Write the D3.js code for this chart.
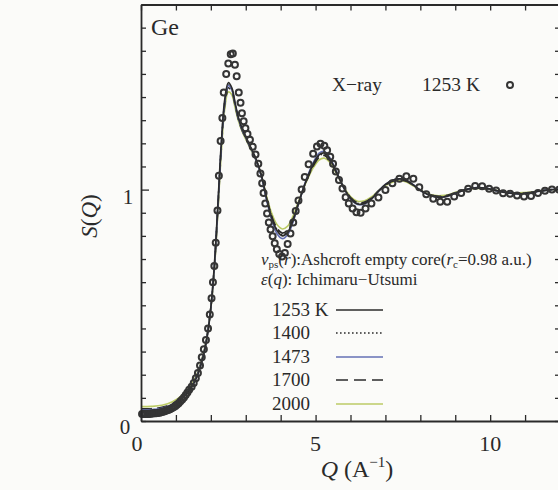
<!DOCTYPE html>
<html><head><meta charset="utf-8">
<script src="https://cdn.jsdelivr.net/npm/d3@7/dist/d3.min.js"></script>
<style>
html,body{margin:0;padding:0;background:#fbfbf9;}
svg{display:block;font-family:"Liberation Serif","Times New Roman",serif;}
</style></head>
<body><svg id="c" width="558" height="490"></svg>
<script>
// ---- data ----
const qModel = [0, 0.3, 0.6, 0.9, 1.2, 1.4, 1.6, 1.8, 1.9, 2.0, 2.1, 2.2, 2.3, 2.4, 2.5, 2.6, 2.7, 2.8, 2.9, 3.0, 3.15, 3.3, 3.45, 3.6, 3.75, 3.9, 4.05, 4.2, 4.35, 4.5, 4.65, 4.8, 4.95, 5.1, 5.25, 5.4, 5.6, 5.8, 6.0, 6.2, 6.4, 6.6, 6.8, 7.0, 7.2, 7.4, 7.6, 7.8, 8.0, 8.2, 8.4, 8.6, 8.8, 9.0, 9.3, 9.6, 9.9, 10.2, 10.5, 10.8, 11.1, 11.4, 11.7, 12.0];
const s1253 = [0.045,0.046,0.052,0.068,0.100,0.135,0.190,0.290,0.370,0.490,0.670,0.930,1.200,1.390,1.462,1.440,1.370,1.305,1.262,1.228,1.180,1.130,1.060,0.960,0.875,0.822,0.800,0.815,0.865,0.935,1.005,1.065,1.115,1.150,1.158,1.135,1.075,1.010,0.962,0.938,0.940,0.960,0.993,1.022,1.040,1.046,1.040,1.020,0.997,0.980,0.970,0.967,0.973,0.984,1.000,1.008,1.005,0.995,0.986,0.982,0.985,0.993,0.999,1.002];
const s1400 = [0.047,0.048,0.054,0.070,0.102,0.137,0.192,0.292,0.372,0.490,0.668,0.925,1.192,1.380,1.452,1.433,1.366,1.303,1.260,1.226,1.178,1.128,1.058,0.960,0.877,0.826,0.805,0.820,0.868,0.937,1.005,1.063,1.112,1.146,1.154,1.132,1.074,1.011,0.964,0.941,0.943,0.962,0.993,1.020,1.038,1.044,1.038,1.019,0.997,0.981,0.971,0.969,0.974,0.985,1.000,1.007,1.004,0.995,0.987,0.983,0.986,0.993,0.999,1.002];
const s1473 = [0.048,0.049,0.055,0.071,0.103,0.138,0.193,0.293,0.372,0.488,0.664,0.920,1.188,1.378,1.450,1.432,1.366,1.302,1.258,1.224,1.176,1.126,1.055,0.952,0.865,0.808,0.788,0.805,0.858,0.932,1.006,1.070,1.122,1.158,1.165,1.140,1.078,1.010,0.960,0.936,0.938,0.959,0.993,1.023,1.041,1.047,1.041,1.021,0.997,0.980,0.969,0.966,0.972,0.984,1.000,1.009,1.006,0.995,0.986,0.981,0.984,0.993,0.999,1.002];
const s1700 = [0.052,0.053,0.059,0.075,0.107,0.142,0.197,0.296,0.374,0.488,0.660,0.912,1.178,1.368,1.440,1.424,1.360,1.298,1.255,1.222,1.175,1.126,1.058,0.962,0.882,0.832,0.812,0.826,0.872,0.938,1.004,1.060,1.107,1.140,1.148,1.128,1.072,1.012,0.966,0.944,0.946,0.964,0.994,1.019,1.036,1.042,1.036,1.018,0.997,0.982,0.973,0.971,0.976,0.986,1.000,1.006,1.004,0.995,0.988,0.984,0.987,0.994,0.999,1.002];
const s2000 = [0.062,0.063,0.068,0.083,0.114,0.148,0.202,0.300,0.376,0.486,0.652,0.898,1.160,1.350,1.422,1.410,1.350,1.292,1.250,1.218,1.172,1.125,1.060,0.970,0.895,0.848,0.830,0.842,0.884,0.945,1.004,1.055,1.098,1.128,1.136,1.120,1.068,1.013,0.970,0.950,0.952,0.968,0.995,1.017,1.032,1.038,1.033,1.016,0.997,0.983,0.975,0.974,0.978,0.988,1.000,1.005,1.003,0.996,0.989,0.986,0.988,0.994,0.999,1.001];

const qXray = [0.03,0.08,0.13,0.18,0.23,0.28,0.33,0.38,0.43,0.48,0.53,0.58,0.63,0.68,0.73,0.78,0.83,0.88,0.93,0.98,1.03,1.08,1.13,1.18,1.23,1.28,1.33,1.38,1.45,1.51,1.57,1.63,1.69,1.74,1.80,1.86,1.92,1.97,2.02,2.06,2.10,2.14,2.19,2.23,2.28,2.33,2.37,2.44,2.50,2.57,2.63,2.69,2.74,2.80,2.85,2.89,2.94,2.99,3.05,3.12,3.20,3.28,3.36,3.42,3.47,3.51,3.56,3.61,3.66,3.71,3.77,3.83,3.89,3.96,4.04,4.12,4.20,4.28,4.36,4.43,4.51,4.60,4.69,4.80,4.93,5.04,5.14,5.25,5.33,5.42,5.50,5.58,5.67,5.77,5.86,5.95,6.06,6.17,6.29,6.43,6.60,6.80,7.00,7.20,7.40,7.60,7.80,7.97,8.17,8.37,8.57,8.77,8.97,9.17,9.37,9.57,9.77,9.97,10.17,10.37,10.57,10.77,10.97,11.17,11.37,11.57,11.77,11.97];
const sXray = [0.030,0.030,0.030,0.030,0.030,0.031,0.032,0.033,0.034,0.035,0.036,0.038,0.040,0.042,0.045,0.048,0.051,0.055,0.059,0.064,0.070,0.077,0.085,0.093,0.102,0.112,0.123,0.135,0.148,0.164,0.185,0.207,0.240,0.275,0.310,0.350,0.400,0.460,0.530,0.600,0.670,0.770,0.910,1.060,1.210,1.310,1.420,1.500,1.545,1.585,1.588,1.540,1.490,1.420,1.375,1.330,1.295,1.265,1.240,1.215,1.185,1.152,1.112,1.070,1.028,0.985,0.940,0.897,0.858,0.828,0.798,0.768,0.742,0.722,0.711,0.726,0.765,0.810,0.858,0.908,0.953,1.000,1.055,1.110,1.155,1.186,1.198,1.190,1.170,1.142,1.112,1.078,1.042,1.005,0.967,0.940,0.918,0.902,0.900,0.918,0.940,0.966,0.998,1.027,1.047,1.058,1.047,1.010,0.980,0.960,0.948,0.948,0.970,0.985,1.004,1.016,1.014,1.004,0.996,0.984,0.982,0.975,0.970,0.972,0.985,0.995,1.000,1.000];

const seriesNames = ["1253 K", "1400", "1473", "1700", "2000"];
const xTickLabels = ["0", "5", "10"];
const xTickLabelValues = [0, 5, 10];
const yTickLabels = ["0", "1"];
const yTickLabelValues = [0, 1];

// ---- styles ----
const styles = [
  {color:"#2b2b2b", width:1.7, dash:null},
  {color:"#2b2b2b", width:1.6, dash:"1.6,2.4"},
  {color:"#6570b4", width:1.6, dash:null},
  {color:"#2b2b2b", width:1.7, dash:"11,5"},
  {color:"#bccb66", width:1.6, dash:null}
];
const seriesVals = [s1253, s1400, s1473, s1700, s2000];

const svg = d3.select("#c");
const L = 141, R = 560, T = 4.5, B = 421;
const x = d3.scaleLinear().domain([0, 12]).range([L, R]);
const y = d3.scaleLinear().domain([0, 1.8]).range([B, T]);
const ink = "#2a2a2a";

// model curves
const line = d3.line().x(d => x(d[0])).y(d => y(d[1])).curve(d3.curveCatmullRom.alpha(0.5));
const drawOrder = [4, 3, 1, 2, 0];
drawOrder.forEach(i => {
  const pts = qModel.map((q, k) => [q, seriesVals[i][k]]);
  svg.append("path").attr("d", line(pts)).attr("fill", "none")
    .attr("stroke", styles[i].color).attr("stroke-width", styles[i].width)
    .attr("stroke-dasharray", styles[i].dash);
});

// x-ray points
svg.append("g").selectAll("circle").data(qXray.map((q, k) => [q, sXray[k]])).join("circle")
  .attr("cx", d => x(d[0])).attr("cy", d => y(d[1])).attr("r", 3.0)
  .attr("fill", "none").attr("stroke", "#353535").attr("stroke-width", 2.0);

// axes (inward ticks)
const gx = svg.append("g").attr("transform", `translate(0,${B})`)
  .call(d3.axisBottom(x).tickValues(d3.range(0, 13, 1)).tickSize(-6).tickSizeOuter(0).tickFormat(""));
const gxt = svg.append("g").attr("transform", `translate(0,${T})`)
  .call(d3.axisTop(x).tickValues(d3.range(0, 13, 1)).tickSize(-6).tickSizeOuter(0).tickFormat(""));
const gy = svg.append("g").attr("transform", `translate(${L},0)`)
  .call(d3.axisLeft(y).tickValues(d3.range(0, 1.81, 0.1)).tickSize(-5).tickSizeOuter(0).tickFormat(""));
const gyr = svg.append("g").attr("transform", `translate(${R},0)`)
  .call(d3.axisRight(y).tickValues(d3.range(0, 1.81, 0.1)).tickSize(-5).tickSizeOuter(0).tickFormat(""));
[gx, gxt, gy, gyr].forEach(g => {
  g.select(".domain").attr("stroke", ink).attr("stroke-width", 1.8);
  g.selectAll(".tick line").attr("stroke", ink).attr("stroke-width", 1.3);
});
gy.selectAll(".tick line").filter(d => Math.abs(d - 1) < 1e-6).attr("x2", 8);

// tick labels
svg.append("g").selectAll("text").data(xTickLabelValues).join("text")
  .attr("x", (d) => x(d) - (d === 0 ? 4 : 0)).attr("y", 451)
  .attr("text-anchor", "middle").attr("font-size", 22).attr("fill", ink)
  .text((d, i) => xTickLabels[i]);
svg.append("g").selectAll("text").data(yTickLabelValues).join("text")
  .attr("x", d => d === 0 ? L - 16 : L - 13).attr("y", d => d === 0 ? y(d) + 13 : y(d) + 14)
  .attr("text-anchor", "middle").attr("font-size", 21).attr("fill", ink)
  .text((d, i) => yTickLabels[i]);

// axis titles
const xt = svg.append("text").attr("x", 357).attr("y", 477).attr("text-anchor", "middle")
  .attr("font-size", 24).attr("fill", ink);
xt.append("tspan").attr("font-style", "italic").text("Q");
xt.append("tspan").text(" (A");
xt.append("tspan").attr("font-size", 15).attr("dy", -10).text("−1");
xt.append("tspan").attr("dy", 10).text(")");

const yt = svg.append("text").attr("transform", "translate(97,216) rotate(-90)")
  .attr("text-anchor", "middle").attr("font-size", 23).attr("fill", ink);
yt.append("tspan").attr("font-style", "italic").text("S");
yt.append("tspan").text("(");
yt.append("tspan").attr("font-style", "italic").text("Q");
yt.append("tspan").text(")");

// annotations
svg.append("text").attr("x", 151).attr("y", 35).attr("font-size", 24).attr("fill", ink).text("Ge");
svg.append("text").attr("x", 332).attr("y", 91).attr("font-size", 19.5).attr("fill", ink).text("X−ray");
svg.append("text").attr("x", 422).attr("y", 91).attr("font-size", 19.5).attr("fill", ink).text("1253 K");
svg.append("circle").attr("cx", 510).attr("cy", 85).attr("r", 3.0)
  .attr("fill", "none").attr("stroke", "#353535").attr("stroke-width", 2.0);

const t1 = svg.append("text").attr("x", 261).attr("y", 265).attr("font-size", 17).attr("fill", ink);
t1.append("tspan").attr("font-style", "italic").text("v");
t1.append("tspan").attr("font-size", 11).attr("dy", 3).text("ps");
t1.append("tspan").attr("dy", -3).text("(");
t1.append("tspan").attr("font-style", "italic").text("r");
t1.append("tspan").text("):Ashcroft empty core(");
t1.append("tspan").attr("font-style", "italic").text("r");
t1.append("tspan").attr("font-size", 11).attr("dy", 3).text("c");
t1.append("tspan").attr("dy", -3).text("=0.98 a.u.)");

const t2 = svg.append("text").attr("x", 261).attr("y", 284.5).attr("font-size", 17).attr("fill", ink);
t2.append("tspan").attr("font-style", "italic").text("ε");
t2.append("tspan").text("(");
t2.append("tspan").attr("font-style", "italic").text("q");
t2.append("tspan").text("): Ichimaru−Utsumi");

// legend
const legBase = [316, 339, 363, 386, 410];
const legG = svg.append("g");
seriesNames.forEach((n, i) => {
  legG.append("text").attr("x", 272).attr("y", legBase[i]).attr("font-size", 19).attr("fill", ink).text(n);
  legG.append("line").attr("x1", 336).attr("x2", 383).attr("y1", legBase[i] - 6).attr("y2", legBase[i] - 6)
    .attr("stroke", styles[i].color).attr("stroke-width", styles[i].width)
    .attr("stroke-dasharray", i === 3 ? "12,6" : styles[i].dash);
});
</script></body></html>
